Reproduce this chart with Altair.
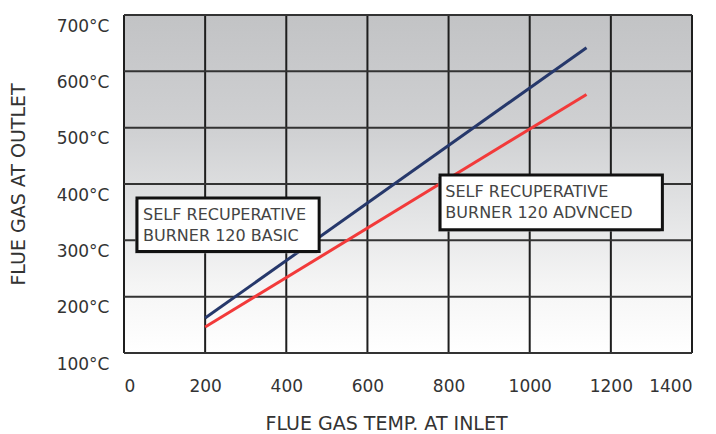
import altair as alt
import pandas as pd

# ---- data ----
x_ticks = [0, 200, 400, 600, 800, 1000, 1200, 1400]
y_ticks = [100, 200, 300, 400, 500, 600, 700]

inlet_temp = [200, 1140]
basic_outlet = [162, 642]
advanced_outlet = [146, 559]

series_names = ["SELF RECUPERATIVE BURNER 120 BASIC", "SELF RECUPERATIVE BURNER 120 ADVNCED"]
series_colors = ["#26386b", "#f23a3a"]

# annotation boxes (data coordinates)
box_x1 = [32, 779]
box_x2 = [481, 1327]
box_y1 = [375, 416]
box_y2 = [280, 319]

label_text = ["SELF RECUPERATIVE", "BURNER 120 BASIC", "SELF RECUPERATIVE", "BURNER 120 ADVNCED"]
label_x = [47, 47, 792, 792]
label_y = [345, 308, 386, 349]

FONT = "DejaVu Sans"
TXT = "#333333"

line_df = pd.DataFrame({
    "inlet": inlet_temp * 2,
    "outlet": basic_outlet + advanced_outlet,
    "series": [series_names[0]] * 2 + [series_names[1]] * 2,
})
bg_df = pd.DataFrame({"x": [x_ticks[0]], "x2": [x_ticks[-1]], "y": [y_ticks[0]], "y2": [y_ticks[-1]]})
vgrid_df = pd.DataFrame({"x": x_ticks})
hgrid_df = pd.DataFrame({"y": y_ticks})
box_df = pd.DataFrame({"x": box_x1, "x2": box_x2, "y": box_y1, "y2": box_y2})
text_df = pd.DataFrame({"t": label_text, "x": label_x, "y": label_y})

xs = alt.Scale(domain=[0, 1400], nice=False, zero=False)
ys = alt.Scale(domain=[100, 700], nice=False, zero=False)

x_axis = alt.Axis(values=x_ticks, grid=False, domain=False, ticks=False, format="d",
                  labelFont=FONT, labelFontSize=17, labelColor=TXT, labelPadding=25,
                  title="FLUE GAS TEMP. AT INLET", titleFont=FONT, titleFontSize=19,
                  titleFontWeight="normal", titleColor=TXT, titlePadding=20,
                  titleX=262, titleAlign="center")
y_axis = alt.Axis(values=y_ticks, grid=False, domain=False, ticks=False,
                  labelExpr="datum.value + '°C'",
                  labelFont=FONT, labelFontSize=17, labelColor=TXT, labelPadding=15,
                  labelOffset=11,
                  title="FLUE GAS AT OUTLET", titleFont=FONT, titleFontSize=19,
                  titleFontWeight="normal", titleColor=TXT, titlePadding=28)

gradient = alt.Gradient(
    gradient="linear", x1=0, x2=0, y1=0, y2=1,
    stops=[
        alt.GradientStop(color="#c2c3c5", offset=0),
        alt.GradientStop(color="#d0d1d3", offset=0.35),
        alt.GradientStop(color="#e4e5e6", offset=0.6),
        alt.GradientStop(color="#f5f5f5", offset=0.8),
        alt.GradientStop(color="#ffffff", offset=1),
    ],
)

bg = alt.Chart(bg_df).mark_rect(color=gradient).encode(
    x=alt.X("x:Q", scale=xs, axis=x_axis), x2="x2:Q",
    y=alt.Y("y:Q", scale=ys, axis=y_axis), y2="y2:Q",
)

vgrid = alt.Chart(vgrid_df).mark_rule(color="#1e1e1e", strokeWidth=2).encode(
    x=alt.X("x:Q", scale=xs), y=alt.value(0), y2=alt.value(338)
)
hgrid = alt.Chart(hgrid_df).mark_rule(color="#333333", strokeWidth=2).encode(
    y=alt.Y("y:Q", scale=ys), x=alt.value(0), x2=alt.value(568)
)

lines = alt.Chart(line_df).mark_line(strokeWidth=3).encode(
    x=alt.X("inlet:Q", scale=xs),
    y=alt.Y("outlet:Q", scale=ys),
    color=alt.Color("series:N", scale=alt.Scale(domain=series_names, range=series_colors), legend=None),
)

shadow = alt.Chart(box_df).mark_rect(fill="#9a9a9a", opacity=0.6, xOffset=-2, yOffset=2, x2Offset=-2, y2Offset=2).encode(
    x=alt.X("x:Q", scale=xs), x2="x2:Q", y=alt.Y("y:Q", scale=ys), y2="y2:Q"
)
boxes = alt.Chart(box_df).mark_rect(fill="white", stroke="#111111", strokeWidth=3).encode(
    x=alt.X("x:Q", scale=xs), x2="x2:Q", y=alt.Y("y:Q", scale=ys), y2="y2:Q"
)
texts = alt.Chart(text_df).mark_text(align="left", baseline="middle", font=FONT, fontSize=16, color="#444444").encode(
    x=alt.X("x:Q", scale=xs), y=alt.Y("y:Q", scale=ys), text="t:N"
)

chart = alt.layer(bg, vgrid, hgrid, lines, shadow, boxes, texts).properties(
    width=568, height=338,
    autosize=alt.AutoSizeParams(type="none"),
    padding={"left": 116, "top": 7, "right": 16, "bottom": 85},
).configure_view(stroke=None)

chart.save("out.html", embed_options={"renderer": "svg", "actions": False})
